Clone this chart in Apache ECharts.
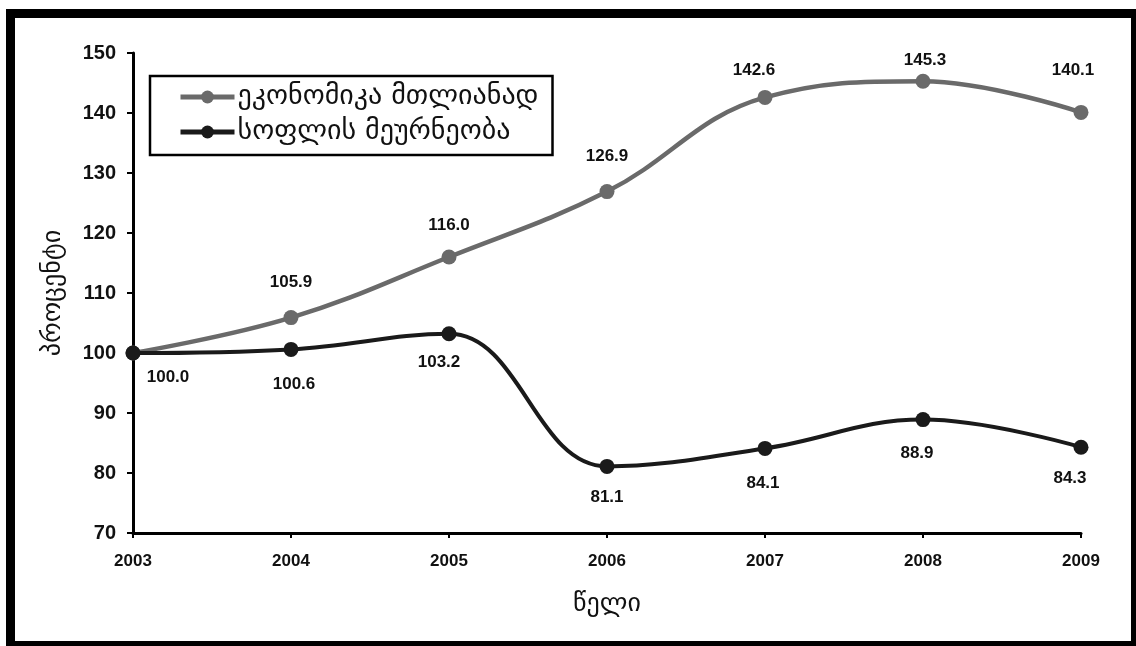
<!DOCTYPE html>
<html>
<head>
<meta charset="utf-8">
<script src="https://cdn.jsdelivr.net/npm/echarts@6/dist/echarts.min.js"></script>
<style>
  html, body { margin: 0; padding: 0; background: #fff; }
  #chart { width: 1136px; height: 646px; }
</style>
</head>
<body>
<div id="chart"></div>
<script>
// Index of growth, 2003 = 100
const years = ['2003', '2004', '2005', '2006', '2007', '2008', '2009'];
const economyTotal = [100.0, 105.9, 116.0, 126.9, 142.6, 145.3, 140.1];
const agriculture = [100.0, 100.6, 103.2, 81.1, 84.1, 88.9, 84.3];
const seriesNames = ['ეკონომიკა მთლიანად', 'სოფლის მეურნეობა'];
const yAxisName = 'პროცენტი';
const xAxisName = 'წელი';

// value labels are centred on their point and then nudged by these pixel offsets
const economyLabelShift = [null, [0, -35], [0, -32], [0, -35], [-11, -27], [2, -21], [-8, -42]];
const agricultureLabelShift = [[35, 24], [3, 35], [-10, 29], [0, 31], [-2, 35], [-6, 34], [-11, 31]];

const geoFont = "'DejaVu Sans', sans-serif";
const numFont = "'Liberation Sans', Arial, sans-serif";

const chart = echarts.init(document.getElementById('chart'), null, { renderer: 'canvas' });

function withLabels(values, shifts) {
  return values.map((v, i) => {
    const s = shifts[i];
    if (!s) return { value: v, label: { show: false } };
    return { value: v, label: { offset: s } };
  });
}

const labelStyle = {
  show: true,
  position: 'inside',
  color: '#111',
  fontFamily: numFont,
  fontWeight: 'bold',
  fontSize: 17,
  formatter: p => p.value.toFixed(1)
};

chart.setOption({
  backgroundColor: '#fff',
  animation: false,
  grid: { left: 133, right: 55, top: 53, bottom: 113, containLabel: false },
  legend: {
    left: 150, top: 76,
    orient: 'vertical',
    data: seriesNames,
    backgroundColor: '#fff',
    borderColor: '#000',
    borderWidth: 2.5,
    borderRadius: 0,
    padding: [6, 14, 8, 28],
    itemGap: 5,
    itemWidth: 54,
    itemHeight: 16,
    lineStyle: { width: 5 },
    textStyle: { fontFamily: geoFont, fontSize: 28, lineHeight: 30, color: '#111', padding: [0, 0, 0, -2] }
  },
  xAxis: {
    type: 'category',
    data: years,
    boundaryGap: false,
    name: xAxisName,
    nameLocation: 'middle',
    nameGap: 58,
    nameTextStyle: { fontFamily: geoFont, fontSize: 26, color: '#111' },
    axisLine: { lineStyle: { color: '#000', width: 3 } },
    axisTick: { show: true, alignWithLabel: true, length: 5, lineStyle: { color: '#000', width: 2 } },
    axisLabel: { fontFamily: numFont, fontWeight: 'bold', fontSize: 17, color: '#111', margin: 20 },
    splitLine: { show: false }
  },
  yAxis: {
    type: 'value',
    min: 70, max: 150, interval: 10,
    name: yAxisName,
    nameLocation: 'middle',
    nameGap: 67,
    nameRotate: 90,
    nameTextStyle: { fontFamily: geoFont, fontSize: 26, color: '#111' },
    axisLine: { show: true, lineStyle: { color: '#000', width: 3 } },
    axisTick: { show: true, length: 6, lineStyle: { color: '#000', width: 2 } },
    axisLabel: { fontFamily: numFont, fontWeight: 'bold', fontSize: 20, color: '#111', margin: 17 },
    splitLine: { show: false }
  },
  series: [
    {
      name: seriesNames[0],
      type: 'line',
      data: withLabels(economyTotal, economyLabelShift),
      smooth: 0.4,
      symbol: 'circle',
      symbolSize: 15,
      lineStyle: { color: '#6a6a6a', width: 4.5 },
      itemStyle: { color: '#6a6a6a' },
      label: labelStyle,
      z: 2
    },
    {
      name: seriesNames[1],
      type: 'line',
      data: withLabels(agriculture, agricultureLabelShift),
      smooth: 0.4,
      symbol: 'circle',
      symbolSize: 15,
      lineStyle: { color: '#1a1a1a', width: 4 },
      itemStyle: { color: '#1a1a1a' },
      label: labelStyle,
      z: 3
    }
  ],
  graphic: [
    // heavy black frame around the figure
    { type: 'rect', shape: { x: 6, y: 9, width: 1130, height: 9 }, style: { fill: '#000' }, silent: true },
    { type: 'rect', shape: { x: 6, y: 9, width: 9, height: 637 }, style: { fill: '#000' }, silent: true },
    { type: 'rect', shape: { x: 1131, y: 9, width: 5, height: 637 }, style: { fill: '#000' }, silent: true },
    { type: 'rect', shape: { x: 6, y: 641, width: 1130, height: 5 }, style: { fill: '#000' }, silent: true }
  ]
});
</script>
</body>
</html>
